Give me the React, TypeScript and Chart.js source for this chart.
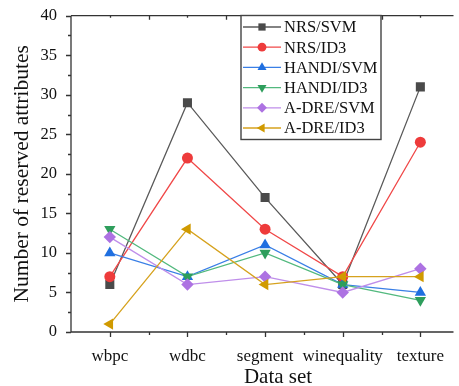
import React, { useEffect, useRef } from "react";
import { Chart, registerables } from "chart.js";

Chart.register(...registerables);

const categories = ["wbpc", "wdbc", "segment", "winequality", "texture"];
const seriesNames = ["NRS/SVM", "NRS/ID3", "HANDI/SVM", "HANDI/ID3", "A-DRE/SVM", "A-DRE/ID3"];
const nrsSvm = [6, 29, 17, 6, 31];
const nrsId3 = [7, 22, 13, 7, 24];
const handiSvm = [10, 7, 11, 6, 5];
const handiId3 = [13, 7, 10, 6, 4];
const adreSvm = [12, 6, 7, 5, 8];
const adreId3 = [1, 13, 6, 7, 7];
const yTicks = [0, 5, 10, 15, 20, 25, 30, 35, 40];
const xTitle = "Data set";
const yTitle = "Number of reserved attributes";

const seriesValues = [nrsSvm, nrsId3, handiSvm, handiId3, adreSvm, adreId3];
const lineColors = ["#5a5a5a", "#f04848", "#3a7fe6", "#52b97e", "#bf8eea", "#d6a21e"];
const markerColors = ["#4a4a4a", "#ee3b3b", "#1f6fe0", "#2e9e5c", "#ad72e2", "#d09a00"];
const styles: any[] = ["rect", "circle", "triangle", "triangle", "rectRot", "triangle"];
const rotations = [0, 0, 0, 180, 0, -90];
const radii = [6.4, 5.5, 6.5, 6.5, 6.2, 6.5];

const FONT = "'Liberation Serif', 'Times New Roman', serif";

function drawMarker(ctx: CanvasRenderingContext2D, style: string, rot: number, x: number, y: number, r: number, color: string) {
  ctx.save();
  ctx.fillStyle = color;
  ctx.translate(x, y);
  ctx.rotate((rot * Math.PI) / 180);
  ctx.beginPath();
  if (style === "rect") {
    const s = Math.SQRT1_2 * r;
    ctx.rect(-s, -s, 2 * s, 2 * s);
  } else if (style === "circle") {
    ctx.arc(0, 0, r, 0, Math.PI * 2);
  } else if (style === "rectRot") {
    ctx.moveTo(0, -r);
    ctx.lineTo(r, 0);
    ctx.lineTo(0, r);
    ctx.lineTo(-r, 0);
    ctx.closePath();
  } else {
    const a = (Math.PI * 2) / 3;
    for (let k = 0; k < 3; k++) {
      const ang = -Math.PI / 2 + k * a;
      const px = Math.cos(ang) * r;
      const py = Math.sin(ang) * r;
      if (k === 0) ctx.moveTo(px, py);
      else ctx.lineTo(px, py);
    }
    ctx.closePath();
  }
  ctx.fill();
  ctx.restore();
}

const framePlugin = {
  id: "frame",
  beforeDatasetsDraw(chart: any) {
    const { ctx, chartArea: a, scales } = chart;
    const xs = scales.x;
    const ys = scales.y;
    ctx.save();
    ctx.strokeStyle = "#333333";
    ctx.lineWidth = 1.3;
    ctx.beginPath();
    ctx.moveTo(a.left, a.top);
    ctx.lineTo(a.right + 1, a.top);
    ctx.moveTo(a.left, a.top);
    ctx.lineTo(a.left, a.bottom);
    ctx.lineTo(a.right + 1, a.bottom);
    for (let i = 0; i < categories.length; i++) {
      const px = Math.round(xs.getPixelForValue(i)) + 0.5;
      ctx.moveTo(px, a.bottom);
      ctx.lineTo(px, a.bottom + 5);
      ctx.moveTo(px, a.top);
      ctx.lineTo(px, a.top + 2);
    }
    for (let i = 0; i < categories.length; i++) {
      const px = Math.round(xs.getPixelForValue(i + 0.5)) + 0.5;
      if (px > a.right) continue;
      ctx.moveTo(px, a.bottom);
      ctx.lineTo(px, a.bottom + 3);
      ctx.moveTo(px, a.top);
      ctx.lineTo(px, a.top + 4);
    }
    for (const v of yTicks) {
      const py = Math.round(ys.getPixelForValue(v)) + 0.5;
      ctx.moveTo(a.left, py);
      ctx.lineTo(a.left - 5, py);
      if (v < 40) {
        const pm = Math.round(ys.getPixelForValue(v + 2.5)) + 0.5;
        ctx.moveTo(a.left, pm);
        ctx.lineTo(a.left - 3, pm);
      }
    }
    ctx.stroke();

    ctx.fillStyle = "#111111";
    ctx.textAlign = "center";
    ctx.textBaseline = "middle";
    ctx.font = `21px ${FONT}`;
    ctx.fillText(xTitle, 278, 377);
    ctx.font = `21.5px ${FONT}`;
    ctx.translate(22, (a.top + a.bottom) / 2);
    ctx.rotate(-Math.PI / 2);
    ctx.fillText(yTitle, 0, 0);
    ctx.restore();
  },
  afterDatasetsDraw(chart: any) {
    const { ctx } = chart;
    const bx = 241, by = 15.5, bw = 140, bh = 124;
    ctx.save();
    ctx.fillStyle = "#ffffff";
    ctx.fillRect(bx, by, bw, bh);
    ctx.strokeStyle = "#444444";
    ctx.lineWidth = 1.4;
    ctx.strokeRect(bx, by, bw, bh);
    ctx.font = `16.5px ${FONT}`;
    ctx.textAlign = "left";
    ctx.textBaseline = "middle";
    for (let i = 0; i < seriesNames.length; i++) {
      const y = 27 + i * 20.2;
      ctx.strokeStyle = lineColors[i];
      ctx.lineWidth = 1.3;
      ctx.beginPath();
      ctx.moveTo(243, y);
      ctx.lineTo(281, y);
      ctx.stroke();
      drawMarker(ctx, styles[i], rotations[i], 262, y, radii[i] * 0.8, markerColors[i]);
      ctx.fillStyle = "#111111";
      ctx.fillText(seriesNames[i], 284, y + 1);
    }
    ctx.restore();
  },
};

export default function App() {
  const ref = useRef<HTMLCanvasElement | null>(null);
  useEffect(() => {
    if (!ref.current) return;
    const chart = new Chart(ref.current, {
      type: "line",
      data: {
        datasets: seriesNames.map((name, i) => ({
          label: name,
          data: seriesValues[i].map((v, k) => ({ x: k, y: v })),
          borderColor: lineColors[i],
          backgroundColor: markerColors[i],
          pointBackgroundColor: markerColors[i],
          pointBorderColor: markerColors[i],
          pointBorderWidth: 0,
          pointStyle: styles[i],
          pointRotation: rotations[i],
          pointRadius: radii[i],
          borderWidth: 1.3,
          tension: 0,
          fill: false,
          order: seriesNames.length - i,
        })),
      },
      options: {
        responsive: false,
        animation: false,
        events: [],
        layout: { padding: { left: 0, right: 1, top: 15.7, bottom: 0 } },
        plugins: { legend: { display: false }, tooltip: { enabled: false }, title: { display: false } },
        scales: {
          x: {
            type: "linear",
            min: -0.5,
            max: 4.414,
            grid: { display: false, drawTicks: false },
            border: { display: false },
            afterBuildTicks: (s: any) => {
              s.ticks = categories.map((_, i) => ({ value: i }));
            },
            afterFit: (s: any) => {
              s.height = 54;
              s.paddingLeft = 0;
              s.paddingRight = 0;
              s.paddingTop = 0;
              s.paddingBottom = 0;
            },
            ticks: {
              autoSkip: false,
              maxRotation: 0,
              padding: 14,
              color: "#111111",
              font: { family: FONT, size: 17 },
              callback: (v: any) => categories[v] ?? "",
            },
          },
          y: {
            min: 0,
            max: 40,
            grid: { display: false, drawTicks: false },
            border: { display: false },
            afterBuildTicks: (s: any) => {
              s.ticks = yTicks.map((v) => ({ value: v }));
            },
            afterFit: (s: any) => {
              s.width = 71;
              s.paddingLeft = 0;
              s.paddingRight = 0;
              s.paddingTop = 0;
              s.paddingBottom = 0;
            },
            ticks: {
              padding: 14,
              color: "#111111",
              font: { family: FONT, size: 16.5 },
            },
          },
        },
      },
      plugins: [framePlugin],
    });
    return () => chart.destroy();
  }, []);
  return (
    <div style={{ position: "absolute", left: 0, top: 0, width: 459, height: 386, background: "#fff" }}>
      <canvas ref={ref} width={459} height={386} style={{ width: 459, height: 386 }} />
    </div>
  );
}
